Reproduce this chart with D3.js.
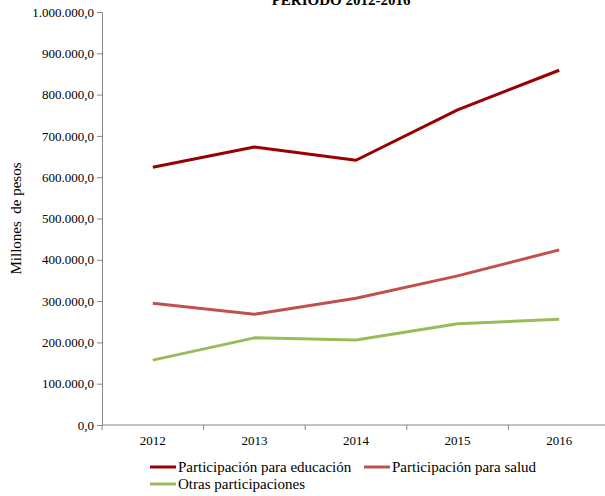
<!DOCTYPE html>
<html>
<head>
<meta charset="utf-8">
<script src="https://cdn.jsdelivr.net/npm/d3@7"></script>
<style>
  body { margin: 0; background: #fff; }
  svg text { font-family: "Liberation Serif", "Times New Roman", serif !important; fill: #000; }
</style>
</head>
<body>
<div id="chart"></div>
<script>
// datos
const years = ["2012", "2013", "2014", "2015", "2016"]
const educacion = [624000, 673000, 641000, 763000, 859000]
const salud = [295000, 268000, 307000, 361000, 424000]
const otras = [157000, 211000, 206000, 245000, 256000]
const yTicks = [0, 100000, 200000, 300000, 400000, 500000, 600000, 700000, 800000, 900000, 1000000]
const seriesNames = ["Participación para educación", "Participación para salud", "Otras participaciones"]
const seriesColors = ["#990000", "#c0504d", "#9bbb59"]

const width = 605, height = 496
const margin = { left: 102, top: 12, right: -5, bottom: 71 }
const axisColor = "#868686"
const serif = '"Liberation Serif", "Times New Roman", serif'

let svg = d3.select("#chart")
    .append("svg")
    .attr("width", width)
    .attr("height", height)

let x = d3.scaleBand()
    .domain(years)
    .range([margin.left, width - margin.right])
let y = d3.scaleLinear()
    .domain([0, 1000000])
    .range([height - margin.bottom, margin.top])

// formato 1.000.000,0
const fmt = (v) => d3.format(",.1f")(v).replace(/,/g, "#").replace(".", ",").replace(/#/g, ".")

// titulo (cortado arriba)
svg.append("text")
    .attr("x", 341)
    .attr("y", 5)
    .attr("text-anchor", "middle")
    .style("font-family", serif)
    .style("font-size", "15px")
    .style("font-weight", "bold")
    .text("PERIODO 2012-2016")

// eje y
let yAxis = svg.append("g")
    .attr("transform", `translate(${margin.left},0)`)
    .attr("font-family", serif)
    .call(d3.axisLeft(y).tickValues(yTicks).tickSize(5).tickPadding(3).tickFormat(fmt))
yAxis.select(".domain").attr("stroke", axisColor)
yAxis.selectAll(".tick line").attr("stroke", axisColor)
yAxis.selectAll(".tick text")
    .style("font-family", serif)
    .style("font-size", "13px")

// eje x
let baseY = y(0)
let xAxis = svg.append("g")
    .attr("transform", `translate(0,${baseY})`)
    .attr("font-family", serif)
    .call(d3.axisBottom(x).tickSize(0).tickPadding(11))
xAxis.select(".domain").remove()
xAxis.selectAll(".tick text")
    .style("font-family", serif)
    .style("font-size", "13px")
svg.append("line")
    .attr("x1", x.range()[0]).attr("x2", x.range()[1])
    .attr("y1", baseY).attr("y2", baseY)
    .attr("stroke", axisColor)
svg.selectAll(".xtick")
    .data(years.map((d) => x(d)).concat([x.range()[1]]))
    .enter()
    .append("line")
    .attr("class", "xtick")
    .attr("x1", (d) => d).attr("x2", (d) => d)
    .attr("y1", baseY).attr("y2", baseY + 5)
    .attr("stroke", axisColor)

// titulo eje y
svg.append("text")
    .attr("transform", `translate(21,${(y(0) + y(1000000)) / 2}) rotate(-90)`)
    .attr("text-anchor", "middle")
    .attr("xml:space", "preserve")
    .style("font-family", serif)
    .style("font-size", "15px")
    .text("Millones  de pesos")

// lineas
let line = d3.line()
    .x((d, i) => x(years[i]) + x.bandwidth() / 2)
    .y((d) => y(d))
let allSeries = [educacion, salud, otras]
svg.append("g")
    .selectAll("path")
    .data(allSeries)
    .enter()
    .append("path")
    .attr("d", line)
    .attr("fill", "none")
    .attr("stroke", (d, i) => seriesColors[i])
    .attr("stroke-width", 3)
    .attr("stroke-linejoin", "round")

// leyenda
let legendPos = [[150, 467], [364, 467], [150, 484]]
let legend = svg.append("g")
legend.selectAll("g")
    .data(seriesNames)
    .enter()
    .append("g")
    .attr("transform", (d, i) => `translate(${legendPos[i][0]},${legendPos[i][1]})`)
    .each(function (d, i) {
        let g = d3.select(this)
        g.append("line")
            .attr("x1", 0).attr("x2", 26)
            .attr("stroke", seriesColors[i])
            .attr("stroke-width", 3)
        g.append("text")
            .attr("x", 28)
            .attr("y", 5)
            .style("font-family", serif)
            .style("font-size", "15px")
            .text(d)
    })
</script>
</body>
</html>
